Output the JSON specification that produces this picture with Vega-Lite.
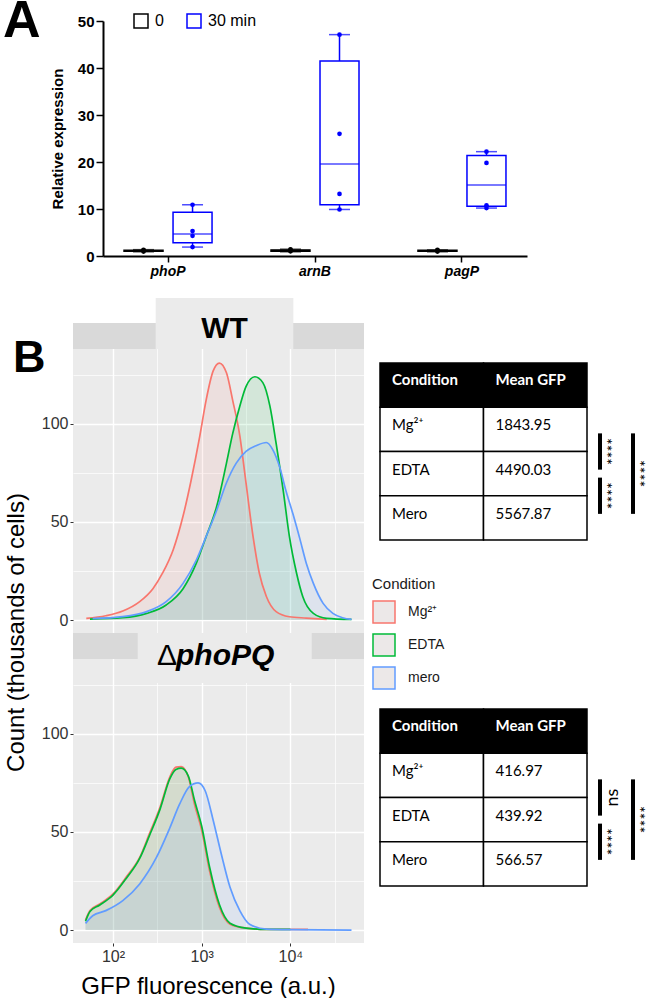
{
  "$schema": "https://vega.github.io/schema/vega-lite/v6.json",
  "padding": {"left": 3, "top": -5, "right": 0, "bottom": 0},
  "config": {
    "view": {"stroke": null},
    "font": "Liberation Sans"
  },
  "datasets": {
    "abox": [
      {"gene": "phoP", "time": "0", "lo": 0.9, "q1": 1.0, "med": 1.1, "q3": 1.25, "hi": 1.35},
      {"gene": "phoP", "time": "30 min", "lo": 1.9, "q1": 2.8, "med": 4.7, "q3": 9.3, "hi": 10.9},
      {"gene": "arnB", "time": "0", "lo": 0.9, "q1": 1.0, "med": 1.15, "q3": 1.3, "hi": 1.45},
      {"gene": "arnB", "time": "30 min", "lo": 9.9, "q1": 10.9, "med": 19.6, "q3": 41.5, "hi": 47.1},
      {"gene": "pagP", "time": "0", "lo": 0.9, "q1": 1.0, "med": 1.1, "q3": 1.2, "hi": 1.3},
      {"gene": "pagP", "time": "30 min", "lo": 10.2, "q1": 10.6, "med": 15.1, "q3": 21.4, "hi": 22.2}
    ],
    "apts": [
      {"gene": "phoP", "time": "0", "value": 0.95}, {"gene": "phoP", "time": "0", "value": 1.1}, {"gene": "phoP", "time": "0", "value": 1.2}, {"gene": "phoP", "time": "0", "value": 1.3},
      {"gene": "phoP", "time": "30 min", "value": 1.9}, {"gene": "phoP", "time": "30 min", "value": 4.3}, {"gene": "phoP", "time": "30 min", "value": 5.3}, {"gene": "phoP", "time": "30 min", "value": 10.9},
      {"gene": "arnB", "time": "0", "value": 1.0}, {"gene": "arnB", "time": "0", "value": 1.1}, {"gene": "arnB", "time": "0", "value": 1.3}, {"gene": "arnB", "time": "0", "value": 1.4},
      {"gene": "arnB", "time": "30 min", "value": 9.9}, {"gene": "arnB", "time": "30 min", "value": 13.2}, {"gene": "arnB", "time": "30 min", "value": 26.0}, {"gene": "arnB", "time": "30 min", "value": 47.1},
      {"gene": "pagP", "time": "0", "value": 0.95}, {"gene": "pagP", "time": "0", "value": 1.1}, {"gene": "pagP", "time": "0", "value": 1.2}, {"gene": "pagP", "time": "0", "value": 1.3},
      {"gene": "pagP", "time": "30 min", "value": 10.2}, {"gene": "pagP", "time": "30 min", "value": 10.8}, {"gene": "pagP", "time": "30 min", "value": 19.8}, {"gene": "pagP", "time": "30 min", "value": 22.2}
    ],
    "dWT": [
      {"c": "Mg²⁺", "x": 50, "y": 0.85}, {"c": "Mg²⁺", "x": 83, "y": 2.2}, {"c": "Mg²⁺", "x": 129, "y": 4.6}, {"c": "Mg²⁺", "x": 200, "y": 9.4},
      {"c": "Mg²⁺", "x": 282, "y": 16}, {"c": "Mg²⁺", "x": 363, "y": 24}, {"c": "Mg²⁺", "x": 479, "y": 36}, {"c": "Mg²⁺", "x": 617, "y": 53},
      {"c": "Mg²⁺", "x": 759, "y": 71}, {"c": "Mg²⁺", "x": 955, "y": 94}, {"c": "Mg²⁺", "x": 1122, "y": 112}, {"c": "Mg²⁺", "x": 1349, "y": 127},
      {"c": "Mg²⁺", "x": 1585, "y": 131}, {"c": "Mg²⁺", "x": 1905, "y": 126}, {"c": "Mg²⁺", "x": 2239, "y": 112}, {"c": "Mg²⁺", "x": 2692, "y": 94},
      {"c": "Mg²⁺", "x": 3162, "y": 70}, {"c": "Mg²⁺", "x": 3802, "y": 42.5}, {"c": "Mg²⁺", "x": 4467, "y": 24}, {"c": "Mg²⁺", "x": 5370, "y": 12},
      {"c": "Mg²⁺", "x": 6918, "y": 4.3}, {"c": "Mg²⁺", "x": 9772, "y": 1.7}, {"c": "Mg²⁺", "x": 15136, "y": 1.0}, {"c": "Mg²⁺", "x": 25704, "y": 0.3},
      {"c": "EDTA", "x": 55, "y": 0.5}, {"c": "EDTA", "x": 129, "y": 1.2}, {"c": "EDTA", "x": 240, "y": 3.4}, {"c": "EDTA", "x": 398, "y": 7.7},
      {"c": "EDTA", "x": 617, "y": 16}, {"c": "EDTA", "x": 871, "y": 29}, {"c": "EDTA", "x": 1122, "y": 42.5}, {"c": "EDTA", "x": 1479, "y": 58},
      {"c": "EDTA", "x": 1905, "y": 80}, {"c": "EDTA", "x": 2239, "y": 95}, {"c": "EDTA", "x": 2692, "y": 109}, {"c": "EDTA", "x": 3162, "y": 119},
      {"c": "EDTA", "x": 3981, "y": 124}, {"c": "EDTA", "x": 4898, "y": 121}, {"c": "EDTA", "x": 5888, "y": 109}, {"c": "EDTA", "x": 6918, "y": 90},
      {"c": "EDTA", "x": 8318, "y": 66}, {"c": "EDTA", "x": 9772, "y": 42.5}, {"c": "EDTA", "x": 11749, "y": 24}, {"c": "EDTA", "x": 13804, "y": 12},
      {"c": "EDTA", "x": 18197, "y": 3.4}, {"c": "EDTA", "x": 25704, "y": 0.85}, {"c": "EDTA", "x": 48978, "y": 0.3},
      {"c": "mero", "x": 59, "y": 0.7}, {"c": "mero", "x": 129, "y": 1.7}, {"c": "mero", "x": 240, "y": 4.3}, {"c": "mero", "x": 398, "y": 9.4},
      {"c": "mero", "x": 617, "y": 18.7}, {"c": "mero", "x": 871, "y": 30.6}, {"c": "mero", "x": 1122, "y": 42.5}, {"c": "mero", "x": 1479, "y": 56},
      {"c": "mero", "x": 1905, "y": 70}, {"c": "mero", "x": 2455, "y": 80}, {"c": "mero", "x": 3162, "y": 86}, {"c": "mero", "x": 4169, "y": 89},
      {"c": "mero", "x": 5370, "y": 90.5}, {"c": "mero", "x": 6310, "y": 87}, {"c": "mero", "x": 7586, "y": 78}, {"c": "mero", "x": 8913, "y": 66},
      {"c": "mero", "x": 10715, "y": 54}, {"c": "mero", "x": 12882, "y": 41}, {"c": "mero", "x": 15136, "y": 29}, {"c": "mero", "x": 18197, "y": 18.7},
      {"c": "mero", "x": 23442, "y": 8.5}, {"c": "mero", "x": 30200, "y": 3.4}, {"c": "mero", "x": 38905, "y": 1.2}, {"c": "mero", "x": 48978, "y": 0.3}
    ],
    "dDel": [
      {"c": "Mg²⁺", "x": 49, "y": 5.1}, {"c": "Mg²⁺", "x": 55, "y": 9.9}, {"c": "Mg²⁺", "x": 71, "y": 13.3}, {"c": "Mg²⁺", "x": 100, "y": 18.4},
      {"c": "Mg²⁺", "x": 141, "y": 27}, {"c": "Mg²⁺", "x": 200, "y": 37}, {"c": "Mg²⁺", "x": 257, "y": 49}, {"c": "Mg²⁺", "x": 339, "y": 62.6},
      {"c": "Mg²⁺", "x": 437, "y": 78}, {"c": "Mg²⁺", "x": 513, "y": 83}, {"c": "Mg²⁺", "x": 589, "y": 83.3}, {"c": "Mg²⁺", "x": 708, "y": 78},
      {"c": "Mg²⁺", "x": 832, "y": 64}, {"c": "Mg²⁺", "x": 1000, "y": 51}, {"c": "Mg²⁺", "x": 1230, "y": 30}, {"c": "Mg²⁺", "x": 1585, "y": 11.6},
      {"c": "Mg²⁺", "x": 2089, "y": 3}, {"c": "Mg²⁺", "x": 3162, "y": 1.0}, {"c": "Mg²⁺", "x": 5370, "y": 0.3}, {"c": "Mg²⁺", "x": 15849, "y": 0.3},
      {"c": "EDTA", "x": 49, "y": 4.5}, {"c": "EDTA", "x": 55, "y": 9.5}, {"c": "EDTA", "x": 71, "y": 12.8}, {"c": "EDTA", "x": 100, "y": 17.8},
      {"c": "EDTA", "x": 141, "y": 26.3}, {"c": "EDTA", "x": 200, "y": 36.5}, {"c": "EDTA", "x": 257, "y": 48}, {"c": "EDTA", "x": 339, "y": 61.5},
      {"c": "EDTA", "x": 437, "y": 77}, {"c": "EDTA", "x": 513, "y": 81.8}, {"c": "EDTA", "x": 589, "y": 82.5}, {"c": "EDTA", "x": 708, "y": 78.5},
      {"c": "EDTA", "x": 832, "y": 66}, {"c": "EDTA", "x": 1000, "y": 53}, {"c": "EDTA", "x": 1230, "y": 32}, {"c": "EDTA", "x": 1585, "y": 13},
      {"c": "EDTA", "x": 2089, "y": 3.5}, {"c": "EDTA", "x": 3162, "y": 1.0}, {"c": "EDTA", "x": 5370, "y": 0.3}, {"c": "EDTA", "x": 10000, "y": 0.3},
      {"c": "mero", "x": 49, "y": 3.4}, {"c": "mero", "x": 59, "y": 7.3}, {"c": "mero", "x": 83, "y": 9.9}, {"c": "mero", "x": 129, "y": 15},
      {"c": "mero", "x": 200, "y": 23.5}, {"c": "mero", "x": 309, "y": 37}, {"c": "mero", "x": 437, "y": 52}, {"c": "mero", "x": 562, "y": 64},
      {"c": "mero", "x": 724, "y": 73}, {"c": "mero", "x": 912, "y": 75}, {"c": "mero", "x": 1096, "y": 71}, {"c": "mero", "x": 1349, "y": 56},
      {"c": "mero", "x": 1660, "y": 39}, {"c": "mero", "x": 2089, "y": 21.8}, {"c": "mero", "x": 2692, "y": 9.9}, {"c": "mero", "x": 3467, "y": 3},
      {"c": "mero", "x": 5370, "y": 0.5}, {"c": "mero", "x": 9772, "y": 0.2}, {"c": "mero", "x": 48978, "y": 0}
    ],
    "tWT": [
      {"row": "h", "col": "c1", "text": "Condition"}, {"row": "h", "col": "c2", "text": "Mean GFP"},
      {"row": "Mg", "col": "c1", "text": "Mg²⁺"}, {"row": "Mg", "col": "c2", "text": "1843.95"},
      {"row": "EDTA", "col": "c1", "text": "EDTA"}, {"row": "EDTA", "col": "c2", "text": "4490.03"},
      {"row": "Mero", "col": "c1", "text": "Mero"}, {"row": "Mero", "col": "c2", "text": "5567.87"}
    ],
    "tDel": [
      {"row": "h", "col": "c1", "text": "Condition"}, {"row": "h", "col": "c2", "text": "Mean GFP"},
      {"row": "Mg", "col": "c1", "text": "Mg²⁺"}, {"row": "Mg", "col": "c2", "text": "416.97"},
      {"row": "EDTA", "col": "c1", "text": "EDTA"}, {"row": "EDTA", "col": "c2", "text": "439.92"},
      {"row": "Mero", "col": "c1", "text": "Mero"}, {"row": "Mero", "col": "c2", "text": "566.57"}
    ],
    "sWT": [
      {"lvl": 1, "from": 1, "to": 2, "mid": 1.5, "label": "****"},
      {"lvl": 1, "from": 2, "to": 3, "mid": 2.5, "label": "****"},
      {"lvl": 2, "from": 1, "to": 3, "mid": 2, "label": "****"}
    ],
    "sDel": [
      {"lvl": 1, "from": 1, "to": 2, "mid": 1.5, "label": "ns"},
      {"lvl": 1, "from": 2, "to": 3, "mid": 2.5, "label": "****"},
      {"lvl": 2, "from": 1, "to": 3, "mid": 2, "label": "****"}
    ]
  },
  "spacing": 20,
  "resolve": {"scale": {"color": "independent", "stroke": "independent"}, "legend": {"color": "independent", "stroke": "independent"}},
  "vconcat": [
    {
      "width": 454,
      "height": 235,
      "title": {"text": "A", "anchor": "start", "frame": "group", "fontSize": 52, "fontWeight": "bold", "color": "black", "dx": -70, "offset": -76, "baseline": "alphabetic"},
      "data": {"name": "abox"},
      "layer": [
        {
          "mark": {"type": "bar", "filled": false, "strokeWidth": 1.5, "size": 39},
          "encoding": {
            "x": {"field": "gene", "type": "nominal", "scale": {"domain": ["phoP", "arnB", "pagP"], "range": [30, 454], "paddingInner": 0.333, "paddingOuter": 0.109},
                  "axis": {"title": null, "labelAngle": 0, "labelFontSize": 14, "labelFontWeight": "bold", "labelFontStyle": "italic", "labelColor": "black", "tickSize": 6, "tickWidth": 1.5, "tickColor": "black", "domainColor": "black", "domainWidth": 2, "labelPadding": 2}},
            "xOffset": {"field": "time", "type": "nominal", "scale": {"domain": ["0", "30 min"], "paddingInner": 0, "paddingOuter": 0}},
            "y": {"field": "q1", "type": "quantitative", "scale": {"domain": [0, 50], "nice": false},
                  "axis": {"title": "Relative expression", "offset": -30, "titleFontSize": 15, "titleFontWeight": "bold", "titleColor": "black", "titleX": -46, "titleBaseline": "middle", "titleAlign": "center", "values": [0, 10, 20, 30, 40, 50], "labelFontSize": 15, "labelFontWeight": "bold", "labelColor": "black", "tickSize": 7, "tickWidth": 1.5, "tickColor": "black", "domainColor": "black", "domainWidth": 2, "grid": false, "labelPadding": 2}},
            "y2": {"field": "q3"},
            "stroke": {"field": "time", "type": "nominal", "scale": {"domain": ["0", "30 min"], "range": ["#000000", "#0000ff"]},
                       "legend": {"title": null, "orient": "none", "legendX": 60, "legendY": -8, "direction": "horizontal", "symbolType": "square", "symbolSize": 196, "symbolStrokeWidth": 1.5, "symbolFillColor": "white", "labelFontSize": 16, "labelColor": "black", "columnPadding": 20, "labelOffset": 6}}
          }
        },
        {
          "mark": {"type": "rule", "strokeWidth": 1.5},
          "encoding": {
            "x": {"field": "gene", "type": "nominal"},
            "xOffset": {"field": "time", "type": "nominal"},
            "y": {"field": "lo", "type": "quantitative"},
            "y2": {"field": "q1"},
            "color": {"field": "time", "type": "nominal", "scale": {"domain": ["30 min", "0"], "range": ["#0000ff", "#000000"]}, "legend": null}
          }
        },
        {
          "mark": {"type": "rule", "strokeWidth": 1.5},
          "encoding": {
            "x": {"field": "gene", "type": "nominal"},
            "xOffset": {"field": "time", "type": "nominal"},
            "y": {"field": "q3", "type": "quantitative"},
            "y2": {"field": "hi"},
            "color": {"field": "time", "type": "nominal", "legend": null}
          }
        },
        {
          "mark": {"type": "tick", "thickness": 1.5, "size": 39},
          "encoding": {
            "x": {"field": "gene", "type": "nominal"},
            "xOffset": {"field": "time", "type": "nominal"},
            "y": {"field": "med", "type": "quantitative"},
            "color": {"field": "time", "type": "nominal", "legend": null}
          }
        },
        {
          "mark": {"type": "tick", "thickness": 1.5, "size": 21},
          "encoding": {
            "x": {"field": "gene", "type": "nominal"},
            "xOffset": {"field": "time", "type": "nominal"},
            "y": {"field": "lo", "type": "quantitative"},
            "color": {"field": "time", "type": "nominal", "legend": null}
          }
        },
        {
          "mark": {"type": "tick", "thickness": 1.5, "size": 21},
          "encoding": {
            "x": {"field": "gene", "type": "nominal"},
            "xOffset": {"field": "time", "type": "nominal"},
            "y": {"field": "hi", "type": "quantitative"},
            "color": {"field": "time", "type": "nominal", "legend": null}
          }
        },
        {
          "data": {"name": "apts"},
          "mark": {"type": "circle", "size": 22, "opacity": 1},
          "encoding": {
            "x": {"field": "gene", "type": "nominal"},
            "xOffset": {"field": "time", "type": "nominal"},
            "y": {"field": "value", "type": "quantitative"},
            "color": {"field": "time", "type": "nominal", "legend": null}
          }
        }
      ]
    },
    {
      "columns": 2,
      "spacing": {"row": 0, "column": 16},
      "bounds": "flush",
      "align": "each",
      "resolve": {"scale": {"color": "independent", "stroke": "independent"}, "legend": {"color": "independent", "stroke": "independent"}},
      "concat": [
        {
          "width": 291,
          "height": 310,
          "view": {"fill": "#ebebeb", "stroke": null},
          "title": {"text": "B", "anchor": "start", "frame": "group", "fontSize": 45, "fontWeight": "bold", "color": "black", "dx": -60, "offset": -119, "baseline": "alphabetic"},
          "layer": [
            {
              "data": {"values": [{}]},
              "mark": {"type": "rect", "color": "#d9d9d9"},
              "encoding": {
                "x": {"datum": 35.4, "type": "quantitative", "scale": {"type": "log", "domain": [35.4, 67770], "nice": false}},
                "x2": {"datum": 67770},
                "y": {"datum": 138.15, "type": "quantitative", "scale": {"domain": [-6.6, 151.4], "nice": false, "zero": false}},
                "y2": {"datum": 151.4}
              }
            },
            {
              "data": {"values": [{}]},
              "mark": {"type": "rect", "color": "#ebebeb"},
              "encoding": {
                "x": {"datum": 303, "type": "quantitative"},
                "x2": {"datum": 10815},
                "y": {"datum": 138.15, "type": "quantitative"},
                "y2": {"datum": 164.1}
              }
            },
            {
              "data": {"values": [{}]},
              "mark": {"type": "text", "text": "WT", "fontSize": 30, "fontWeight": "bold", "align": "center", "baseline": "alphabetic", "color": "black"},
              "encoding": {
                "x": {"datum": 1811, "type": "quantitative"},
                "y": {"datum": 143.6, "type": "quantitative"}
              }
            },
            {
              "data": {"name": "dWT"},
              "mark": {"type": "area", "fillOpacity": 0.1, "interpolate": "monotone"},
              "encoding": {
                "x": {"field": "x", "type": "quantitative",
                      "axis": {"title": null, "values": [100, 316.23, 1000, 3162.28, 10000, 31622.8], "labels": false, "ticks": false, "domain": false, "grid": true, "gridColor": "white",
                               "gridWidth": {"condition": {"test": "datum.value == 100 || datum.value == 1000 || datum.value == 10000", "value": 1.4}, "value": 0.7}}},
                "y": {"field": "y", "type": "quantitative", "stack": null,
                      "axis": {"title": null, "values": [0, 25, 50, 75, 100, 125], "labelExpr": "datum.value % 50 == 0 ? datum.label : ''", "grid": true, "gridColor": "white",
                               "gridWidth": {"condition": {"test": "datum.value % 50 == 0", "value": 1.4}, "value": 0.7},
                               "domain": false, "tickSize": 3, "tickColor": "#333333", "tickOpacity": {"condition": {"test": "datum.value % 50 == 0", "value": 1}, "value": 0},
                               "labelFontSize": 16, "labelColor": "#333333", "labelPadding": 2}},
                "color": {"field": "c", "type": "nominal", "scale": {"domain": ["mero", "EDTA", "Mg²⁺"], "range": ["#619CFF", "#00BA38", "#F8766D"]}, "legend": null}
              }
            },
            {
              "data": {"name": "dWT"},
              "mark": {"type": "line", "strokeWidth": 1.7, "interpolate": "monotone"},
              "encoding": {
                "x": {"field": "x", "type": "quantitative"},
                "y": {"field": "y", "type": "quantitative"},
                "stroke": {"field": "c", "type": "nominal", "scale": {"domain": ["Mg²⁺", "EDTA", "mero"], "range": ["#F8766D", "#00BA38", "#619CFF"]},
                           "legend": {"title": "Condition", "orient": "none", "legendX": 299, "legendY": 254, "symbolType": "square", "symbolSize": 484, "symbolStrokeWidth": 1.5, "symbolFillColor": "#ece8e8",
                                      "labelFontSize": 14, "titleFontSize": 15, "titleFontWeight": "normal", "titleColor": "#1a1a1a", "labelColor": "#1a1a1a", "rowPadding": 5, "titlePadding": 8, "labelOffset": 12}}
              }
            }
          ]
        },
        {
          "width": 275,
          "height": 310,
          "data": {"name": "tWT"},
          "resolve": {"scale": {"x": "independent", "y": "independent"}},
          "layer": [
            {
              "mark": {"type": "rect", "stroke": "black", "strokeWidth": 1.5},
              "encoding": {
                "x": {"field": "col", "type": "nominal", "scale": {"type": "band", "domain": ["c1", "c2"], "range": [0, 207], "paddingInner": 0, "paddingOuter": 0}, "axis": null},
                "y": {"field": "row", "type": "nominal", "scale": {"type": "band", "domain": ["h", "Mg", "EDTA", "Mero"], "range": [40, 217], "paddingInner": 0, "paddingOuter": 0}, "axis": null},
                "fill": {"condition": {"test": "datum.row == 'h'", "value": "black"}, "value": "white"}
              }
            },
            {
              "transform": [{"filter": "datum.row == 'h'"}],
              "mark": {"type": "text", "align": "left", "baseline": "middle", "xOffset": 12, "yOffset": -5, "fontSize": 15, "fontWeight": "bold", "color": "white", "font": "Lato"},
              "encoding": {
                "x": {"field": "col", "type": "nominal", "bandPosition": 0, "scale": {"type": "band", "domain": ["c1", "c2"], "range": [0, 207], "paddingInner": 0, "paddingOuter": 0}, "axis": null},
                "y": {"field": "row", "type": "nominal", "scale": {"type": "band", "domain": ["h", "Mg", "EDTA", "Mero"], "range": [40, 217], "paddingInner": 0, "paddingOuter": 0}, "axis": null},
                "text": {"field": "text"}
              }
            },
            {
              "transform": [{"filter": "datum.row != 'h'"}],
              "mark": {"type": "text", "align": "left", "baseline": "middle", "xOffset": 12, "yOffset": -4, "fontSize": 15, "color": "black", "font": "Lato"},
              "encoding": {
                "x": {"field": "col", "type": "nominal", "bandPosition": 0, "scale": {"type": "band", "domain": ["c1", "c2"], "range": [0, 207], "paddingInner": 0, "paddingOuter": 0}, "axis": null},
                "y": {"field": "row", "type": "nominal", "scale": {"type": "band", "domain": ["h", "Mg", "EDTA", "Mero"], "range": [40, 217], "paddingInner": 0, "paddingOuter": 0}, "axis": null},
                "text": {"field": "text"}
              }
            },
            {
              "data": {"name": "sWT"},
              "mark": {"type": "rule", "strokeWidth": 4, "color": "black", "yOffset": 4, "y2Offset": -4},
              "encoding": {
                "x": {"field": "lvl", "type": "quantitative", "scale": {"domain": [1, 2], "range": [220, 253]}, "axis": null},
                "y": {"field": "from", "type": "quantitative", "scale": {"domain": [-0.5, 3.5], "range": [40, 217]}, "axis": null},
                "y2": {"field": "to"}
              }
            },
            {
              "data": {"name": "sWT"},
              "mark": {"type": "text", "angle": 270, "xOffset": 13, "align": "center", "baseline": "middle", "font": "Lato", "color": "black"},
              "encoding": {
                "x": {"field": "lvl", "type": "quantitative", "scale": {"domain": [1, 2], "range": [220, 253]}, "axis": null},
                "y": {"field": "mid", "type": "quantitative", "scale": {"domain": [-0.5, 3.5], "range": [40, 217]}, "axis": null},
                "text": {"field": "label"},
                "size": {"condition": {"test": "datum.label == 'ns'", "value": 18}, "value": 16}
              }
            }
          ]
        },
        {
          "width": 291,
          "height": 310,
          "view": {"fill": "#ebebeb", "stroke": null},
          "layer": [
            {
              "data": {"values": [{}]},
              "mark": {"type": "rect", "color": "#d9d9d9"},
              "encoding": {
                "x": {"datum": 35.4, "type": "quantitative", "scale": {"type": "log", "domain": [35.4, 67770], "nice": false}},
                "x2": {"datum": 67770},
                "y": {"datum": 138.15, "type": "quantitative", "scale": {"domain": [-6.6, 151.4], "nice": false, "zero": false}},
                "y2": {"datum": 151.4}
              }
            },
            {
              "data": {"values": [{}]},
              "mark": {"type": "rect", "color": "#ebebeb"},
              "encoding": {
                "x": {"datum": 190, "type": "quantitative"},
                "x2": {"datum": 17430},
                "y": {"datum": 125.9, "type": "quantitative"},
                "y2": {"datum": 151.4}
              }
            },
            {
              "data": {"values": [{}]},
              "mark": {"type": "text", "text": "Δ", "fontSize": 30, "align": "left", "baseline": "alphabetic", "color": "black"},
              "encoding": {
                "x": {"datum": 313.7, "type": "quantitative"},
                "y": {"datum": 135, "type": "quantitative"}
              }
            },
            {
              "data": {"values": [{}]},
              "mark": {"type": "text", "text": "phoPQ", "fontSize": 30, "fontWeight": "bold", "fontStyle": "italic", "align": "left", "baseline": "alphabetic", "color": "black"},
              "encoding": {
                "x": {"datum": 513.7, "type": "quantitative"},
                "y": {"datum": 135, "type": "quantitative"}
              }
            },
            {
              "data": {"name": "dDel"},
              "mark": {"type": "area", "fillOpacity": 0.1, "interpolate": "monotone"},
              "encoding": {
                "x": {"field": "x", "type": "quantitative",
                      "axis": {"title": "GFP fluorescence (a.u.)", "titleFontSize": 24, "titleFontWeight": "normal", "titleColor": "black", "titleX": 135, "titleY": 43, "titleBaseline": "middle", "titleAlign": "center",
                               "values": [100, 316.23, 1000, 3162.28, 10000, 31622.8],
                               "labelExpr": "datum.value == 100 ? '10²' : datum.value == 1000 ? '10³' : datum.value == 10000 ? '10⁴' : ''",
                               "labelFontSize": 16, "labelColor": "#333333", "labelPadding": 2, "labelFlush": false,
                               "tickSize": 3, "tickColor": "#333333", "tickOpacity": {"condition": {"test": "datum.value == 100 || datum.value == 1000 || datum.value == 10000", "value": 1}, "value": 0},
                               "domain": false, "grid": true, "gridColor": "white",
                               "gridWidth": {"condition": {"test": "datum.value == 100 || datum.value == 1000 || datum.value == 10000", "value": 1.4}, "value": 0.7}}},
                "y": {"field": "y", "type": "quantitative", "stack": null,
                      "axis": {"title": "Count (thousands of cells)", "titleFontSize": 24, "titleFontWeight": "normal", "titleColor": "black", "titleX": -57, "titleY": -1, "titleBaseline": "middle", "titleAlign": "center",
                               "values": [0, 25, 50, 75, 100, 125], "labelExpr": "datum.value % 50 == 0 ? datum.label : ''", "grid": true, "gridColor": "white",
                               "gridWidth": {"condition": {"test": "datum.value % 50 == 0", "value": 1.4}, "value": 0.7},
                               "domain": false, "tickSize": 3, "tickColor": "#333333", "tickOpacity": {"condition": {"test": "datum.value % 50 == 0", "value": 1}, "value": 0},
                               "labelFontSize": 16, "labelColor": "#333333", "labelPadding": 2}},
                "color": {"field": "c", "type": "nominal", "scale": {"domain": ["mero", "EDTA", "Mg²⁺"], "range": ["#619CFF", "#00BA38", "#F8766D"]}, "legend": null}
              }
            },
            {
              "data": {"name": "dDel"},
              "mark": {"type": "line", "strokeWidth": 1.7, "interpolate": "monotone"},
              "encoding": {
                "x": {"field": "x", "type": "quantitative"},
                "y": {"field": "y", "type": "quantitative"},
                "stroke": {"field": "c", "type": "nominal", "scale": {"domain": ["Mg²⁺", "EDTA", "mero"], "range": ["#F8766D", "#00BA38", "#619CFF"]}, "legend": null}
              }
            }
          ]
        },
        {
          "width": 275,
          "height": 310,
          "data": {"name": "tDel"},
          "resolve": {"scale": {"x": "independent", "y": "independent"}},
          "layer": [
            {
              "mark": {"type": "rect", "stroke": "black", "strokeWidth": 1.5},
              "encoding": {
                "x": {"field": "col", "type": "nominal", "scale": {"type": "band", "domain": ["c1", "c2"], "range": [0, 207], "paddingInner": 0, "paddingOuter": 0}, "axis": null},
                "y": {"field": "row", "type": "nominal", "scale": {"type": "band", "domain": ["h", "Mg", "EDTA", "Mero"], "range": [76, 253], "paddingInner": 0, "paddingOuter": 0}, "axis": null},
                "fill": {"condition": {"test": "datum.row == 'h'", "value": "black"}, "value": "white"}
              }
            },
            {
              "transform": [{"filter": "datum.row == 'h'"}],
              "mark": {"type": "text", "align": "left", "baseline": "middle", "xOffset": 12, "yOffset": -5, "fontSize": 15, "fontWeight": "bold", "color": "white", "font": "Lato"},
              "encoding": {
                "x": {"field": "col", "type": "nominal", "bandPosition": 0, "scale": {"type": "band", "domain": ["c1", "c2"], "range": [0, 207], "paddingInner": 0, "paddingOuter": 0}, "axis": null},
                "y": {"field": "row", "type": "nominal", "scale": {"type": "band", "domain": ["h", "Mg", "EDTA", "Mero"], "range": [76, 253], "paddingInner": 0, "paddingOuter": 0}, "axis": null},
                "text": {"field": "text"}
              }
            },
            {
              "transform": [{"filter": "datum.row != 'h'"}],
              "mark": {"type": "text", "align": "left", "baseline": "middle", "xOffset": 12, "yOffset": -4, "fontSize": 15, "color": "black", "font": "Lato"},
              "encoding": {
                "x": {"field": "col", "type": "nominal", "bandPosition": 0, "scale": {"type": "band", "domain": ["c1", "c2"], "range": [0, 207], "paddingInner": 0, "paddingOuter": 0}, "axis": null},
                "y": {"field": "row", "type": "nominal", "scale": {"type": "band", "domain": ["h", "Mg", "EDTA", "Mero"], "range": [76, 253], "paddingInner": 0, "paddingOuter": 0}, "axis": null},
                "text": {"field": "text"}
              }
            },
            {
              "data": {"name": "sDel"},
              "mark": {"type": "rule", "strokeWidth": 4, "color": "black", "yOffset": 4, "y2Offset": -4},
              "encoding": {
                "x": {"field": "lvl", "type": "quantitative", "scale": {"domain": [1, 2], "range": [220, 253]}, "axis": null},
                "y": {"field": "from", "type": "quantitative", "scale": {"domain": [-0.5, 3.5], "range": [76, 253]}, "axis": null},
                "y2": {"field": "to"}
              }
            },
            {
              "data": {"name": "sDel"},
              "mark": {"type": "text", "angle": 270, "xOffset": 13, "align": "center", "baseline": "middle", "font": "Lato", "color": "black"},
              "encoding": {
                "x": {"field": "lvl", "type": "quantitative", "scale": {"domain": [1, 2], "range": [220, 253]}, "axis": null},
                "y": {"field": "mid", "type": "quantitative", "scale": {"domain": [-0.5, 3.5], "range": [76, 253]}, "axis": null},
                "text": {"field": "label"},
                "size": {"condition": {"test": "datum.label == 'ns'", "value": 18}, "value": 16}
              }
            }
          ]
        }
      ]
    }
  ]
}
